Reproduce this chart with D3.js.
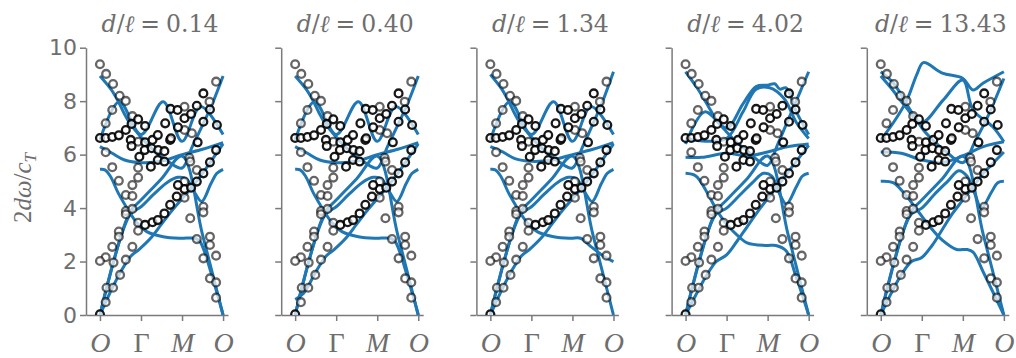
<!DOCTYPE html>
<html>
<head>
<meta charset="utf-8">
<script src="https://cdn.jsdelivr.net/npm/d3@7"></script>
<style>
  body { margin: 0; background: #fff; }
</style>
</head>
<body>
<script>
// dispersion panels, markers shared, model curves per d/l

var dOverL = ["0.14", "0.40", "1.34", "4.02", "13.43"];
var yTicks = [0, 2, 4, 6, 8, 10];
var xTickValues = [0, 1, 2, 3];
var xTickLabels = ["O", "Γ", "M", "O"];

// reference points [k, 2dω/c_T]
var grayPoints = [
  [0, 9.38], [0.15, 9.02], [0.32, 8.64], [0.48, 8.2], [0.63, 8.01], [0.3, 7.67], [0.14, 7.17], [0.79, 7.44],
  [2.83, 8.73], [2.67, 7.98], [2.06, 7.79], [2.24, 6.8], [2.06, 6.92],
  [0.14, 6.09], [0.3, 5.53], [0.46, 5.02], [0.63, 4.49], [0.79, 4.45], [0.79, 4.86], [0.93, 5.14], [0.93, 5.51],
  [0.63, 3.89], [0.63, 3.77], [0.79, 3.97], [0.46, 3.12], [0.46, 2.93], [0.93, 3.45], [0.93, 3.15],
  [0.79, 2.55], [0.63, 2.07], [0.3, 2.55], [0.33, 1.96], [0.14, 2.16], [0, 2.02], [0.49, 1.5],
  [0.16, 1.02], [0.32, 1.02], [0.14, 0.48],
  [2.18, 5.88], [2.2, 5.74], [2.36, 5.42], [2.06, 4.99], [2.06, 4.39], [2.52, 4.05], [2.52, 3.84],
  [2.2, 3.62], [2.36, 2.84], [2.68, 2.93], [2.68, 2.62], [2.83, 2.22], [2.52, 2.12],
  [2.68, 1.37], [2.83, 1.22], [2.83, 0.65], [0.93, 6.48]
];
var blackPoints = [
  [0, 6.62], [0.14, 6.62], [0.3, 6.66], [0.46, 6.72], [0.63, 6.92], [0.77, 7.15], [0.93, 7.32], [1.1, 7.07],
  [0.75, 6.55], [1.1, 6.46], [1.09, 6.17], [1.28, 6.55], [1.26, 6.24], [1.42, 6.17], [1.24, 5.55], [1.41, 6.73],
  [1.1, 3.37], [1.28, 3.47], [1.41, 3.55], [1.57, 3.8], [1.71, 4.12], [1.87, 4.43], [2.06, 4.71], [2.22, 4.76],
  [1.9, 4.86], [2.36, 4.99], [2.52, 5.3], [2.68, 5.71], [2.83, 6.17],
  [1.71, 6.55], [1.57, 6.13], [1.41, 5.8], [1.57, 5.74], [2.38, 6.46], [1.59, 7.17], [1.72, 7.71], [1.89, 7.67],
  [2.06, 7.36], [2.22, 7.52], [2.36, 7.83], [2.52, 8.29], [2.68, 7.69], [1.9, 7.02], [1.73, 6.61], [2.52, 7.23],
  [2.85, 7.11], [0, 0.03], [0.77, 6.32], [0.96, 5.92]
];

// model branches, one list per panel
var acoA = [[0, 0], [0.73, 3.85], [1, 4.3], [1.5, 5.1], [2, 5.95], [2.5, 3.0], [3, 0]];

var linesP0 = [
  [[0, 0], [0.25, 0.85], [0.5, 1.6], [0.75, 2.2], [0.95, 2.45], [1.25, 2.9], [1.5, 3.4], [1.75, 3.9], [2, 4.35], [2.25, 4.8], [2.5, 5.3], [2.75, 5.85], [3, 6.4]],
  acoA,
  [[0, 0], [0.73, 3.75], [1, 4.05], [1.3, 4.5], [1.63, 4.95], [1.9, 5.15], [2.1, 5.1], [2.3, 4.6], [2.48, 4.25], [2.7, 4.9], [2.85, 5.3], [3, 5.45]],
  [[0, 5.45], [0.12, 5.43], [0.25, 5.2], [0.45, 4.55], [0.7, 3.9], [0.9, 3.45], [1.14, 3.12], [1.54, 2.93], [1.95, 2.87], [2.32, 2.87], [2.44, 2.74], [2.76, 1.31], [3, 0]],
  [[0, 6.3], [0.3, 6.05], [0.6, 5.8], [1, 5.7], [1.5, 5.75], [2, 6.0], [2.5, 6.2], [3, 6.45]],
  [[0, 6.55], [0.47, 7.98], [1, 6.75], [1.54, 7.98], [2, 6.5], [2.45, 7.8], [3, 6.75]],
  [[0, 8.94], [0.28, 8.42], [0.45, 7.98], [0.57, 7.6], [0.73, 7.17], [0.89, 6.86], [1.14, 6.42], [1.4, 6.05], [1.7, 5.7], [2, 5.5], [2.25, 6.3], [2.5, 7.1], [2.75, 7.95], [3, 8.94]]
];
var linesP1 = [
  [[0, 0.58], [0.2, 0.8], [0.5, 1.6], [0.75, 2.2], [0.95, 2.45], [1.25, 2.9], [1.5, 3.4], [1.75, 3.9], [2, 4.35], [2.25, 4.8], [2.5, 5.3], [2.75, 5.85], [3, 6.4]],
  acoA,
  [[0, 0], [0.73, 3.75], [1, 4.05], [1.3, 4.5], [1.63, 4.95], [1.9, 5.15], [2.1, 5.1], [2.3, 4.6], [2.48, 4.25], [2.7, 4.9], [2.85, 5.3], [3, 5.45]],
  [[0, 5.45], [0.12, 5.43], [0.25, 5.2], [0.45, 4.55], [0.7, 3.9], [0.9, 3.45], [1.14, 3.12], [1.54, 2.93], [1.95, 2.87], [2.32, 2.87], [2.44, 2.74], [2.76, 1.31], [3, 0]],
  [[0, 6.3], [0.3, 6.05], [0.6, 5.8], [1, 5.7], [1.5, 5.75], [2, 6.0], [2.5, 6.2], [3, 6.45]],
  [[0, 6.55], [0.47, 7.98], [1, 6.75], [1.54, 7.98], [2, 6.5], [2.45, 7.8], [3, 6.75]],
  [[0, 8.94], [0.28, 8.42], [0.45, 7.98], [0.57, 7.6], [0.73, 7.17], [0.89, 6.86], [1.14, 6.42], [1.4, 6.05], [1.7, 5.7], [2, 5.5], [2.25, 6.3], [2.5, 7.1], [2.75, 7.95], [3, 8.94]]
];
var linesP2 = [
  [[0, 0], [0.25, 0.85], [0.5, 1.6], [0.75, 2.2], [0.95, 2.45], [1.25, 2.9], [1.5, 3.4], [1.75, 3.9], [2, 4.35], [2.25, 4.8], [2.5, 5.3], [2.75, 5.85], [3, 6.4]],
  acoA,
  [[0, 0], [0.73, 3.75], [1, 4.05], [1.3, 4.5], [1.63, 4.95], [1.9, 5.15], [2.1, 5.1], [2.3, 4.6], [2.48, 4.25], [2.7, 4.9], [2.85, 5.3], [3, 5.45]],
  [[0, 5.45], [0.12, 5.43], [0.25, 5.2], [0.45, 4.55], [0.7, 3.9], [0.9, 3.45], [1.14, 3.12], [1.54, 2.93], [1.95, 2.87], [2.2, 2.87], [2.45, 2.56], [2.78, 2.18], [3, 2.0]],
  [[0, 6.3], [0.3, 6.1], [0.6, 5.85], [1, 5.75], [1.5, 5.8], [2, 6.0], [2.5, 6.2], [3, 6.45]],
  [[0, 6.55], [0.47, 7.98], [1, 6.75], [1.54, 7.98], [2, 6.5], [2.45, 7.8], [3, 6.75]],
  [[0, 9.0], [0.28, 8.45], [0.45, 7.98], [0.57, 7.6], [0.73, 7.17], [0.89, 6.86], [1.14, 6.42], [1.4, 6.05], [1.7, 5.7], [2, 5.5], [2.25, 6.3], [2.5, 7.15], [2.75, 8.05], [3, 9.1]]
];
var linesP3 = [
  [[0, 0], [0.25, 0.75], [0.5, 1.45], [0.75, 2.0], [1, 2.25], [1.25, 2.75], [1.5, 3.3], [1.75, 3.85], [2, 4.35], [2.25, 4.85], [2.5, 5.35], [2.75, 5.85], [3, 6.35]],
  acoA,
  [[0, 0], [0.73, 3.75], [1, 4.0], [1.3, 4.45], [1.63, 4.95], [1.9, 5.3], [2.1, 5.2], [2.3, 4.5], [2.46, 4.15], [2.7, 4.8], [2.85, 5.2], [3, 5.3]],
  [[0, 5.3], [0.25, 5.2], [0.5, 4.65], [0.75, 3.95], [1, 3.4], [1.25, 3.0], [1.5, 2.7], [1.95, 2.6], [2.2, 2.6], [2.45, 2.4], [2.7, 1.4], [3, 0]],
  [[0, 5.9], [0.4, 5.9], [1, 6.05], [1.5, 5.95], [2, 6.1], [2.5, 6.3], [3, 6.4]],
  [[0, 6.4], [0.47, 7.6], [1, 7.0], [1.4, 7.9], [1.72, 8.55], [2, 8.6], [2.17, 8.65], [2.3, 8.45], [2.45, 8.5], [2.7, 7.6], [3, 6.75]],
  [[0, 6.6], [0.5, 6.5], [1, 6.6], [1.4, 7.6], [1.72, 8.45], [2.05, 8.5], [2.4, 8.1], [2.7, 7.2], [3, 6.6]],
  [[0, 9.1], [0.28, 8.5], [0.5, 7.95], [0.75, 7.3], [1, 6.85], [1.25, 6.45], [1.5, 6.15], [1.75, 5.8], [2, 5.6], [2.25, 6.4], [2.5, 7.3], [2.75, 8.2], [3, 9.1]]
];
var linesP4 = [
  [[0, 0], [0.25, 0.8], [0.5, 1.5], [0.75, 2.0], [1, 2.15], [1.25, 2.6], [1.5, 3.2], [1.75, 3.8], [2, 4.3], [2.25, 4.8], [2.5, 5.3], [2.75, 5.7], [3, 6.1]],
  acoA,
  [[0, 0], [0.73, 3.75], [1, 4.0], [1.3, 4.5], [1.63, 5.0], [1.9, 5.4], [2.1, 5.2], [2.3, 4.5], [2.45, 4.0], [2.7, 4.6], [2.85, 4.95], [3, 5.0]],
  [[0, 5.0], [0.3, 4.95], [0.6, 4.5], [0.9, 3.9], [1.2, 3.3], [1.5, 2.8], [1.85, 2.45], [2.1, 2.45], [2.25, 2.35], [2.5, 1.6], [3, 0]],
  [[0, 6.1], [0.5, 6.05], [1, 5.8], [1.5, 5.7], [2, 5.95], [2.5, 6.3], [3, 6.48]],
  [[0, 6.55], [0.31, 7.2], [0.64, 8.05], [0.88, 9.0], [1.04, 9.44], [1.5, 9.05], [2, 8.85], [2.25, 8.42], [2.49, 8.67], [3, 9.1]],
  [[0, 9.1], [0.31, 8.67], [0.72, 7.67], [1.04, 6.92], [1.3, 6.5], [1.6, 6.1], [2, 5.7], [2.3, 6.5], [2.6, 7.4], [3, 8.85]],
  [[0, 8.94], [0.3, 8.4], [0.6, 7.8], [1, 7.2], [1.52, 8.04], [2, 8.79], [2.25, 7.67], [2.73, 7.04], [3, 6.48]]
];
var panelLines = [linesP0, linesP1, linesP2, linesP3, linesP4];

var svg = d3.select("body").append("svg").attr("width", 1016).attr("height", 358);

var x = d3.scaleLinear().domain([-0.34, 3.12]).range([0, 142]);
var y = d3.scaleLinear().domain([0, 10]).range([315, 47.7]);

var line = d3.line()
  .x(function (d) { return x(d[0]); })
  .y(function (d) { return y(d[1]); })
  .curve(d3.curveCatmullRom.alpha(0.5));

var textGray = "#6e6e6e";
var axisGray = "#7a7a7a";
var serif = "Liberation Serif, DejaVu Serif, serif";

svg.append("defs").append("clipPath").attr("id", "plotclip")
  .append("rect").attr("x", 0).attr("y", y(10)).attr("width", 142).attr("height", y(0) - y(10));

for (var p = 0; p < 5; p++) {
  var g = svg.append("g").attr("transform", "translate(" + (86 + p * 195.2) + ",0)");

  // axes
  var yAxis = d3.axisLeft(y).tickValues(yTicks).tickSize(6).tickSizeOuter(0)
    .tickFormat(p === 0 ? d3.format("d") : function () { return ""; });
  var ya = g.append("g").call(yAxis);
  var xa = g.append("g").attr("transform", "translate(0," + y(0) + ")")
    .call(d3.axisBottom(x).tickValues(xTickValues).tickSize(6).tickSizeOuter(0)
      .tickFormat(function (d, i) { return xTickLabels[i]; }));

  [ya, xa].forEach(function (a) {
    a.select(".domain").attr("stroke", axisGray).attr("stroke-width", 1.5);
    a.selectAll(".tick line").attr("stroke", axisGray).attr("stroke-width", 1.5);
  });
  ya.selectAll(".tick text").attr("fill", textGray).attr("font-family", "DejaVu Sans")
    .attr("font-size", 22).attr("x", -9);
  xa.selectAll(".tick text").attr("fill", textGray).attr("font-family", serif)
    .attr("font-size", 28).attr("y", 17)
    .attr("font-style", function (d, i) { return xTickLabels[i] === "Γ" ? "normal" : "italic"; });

  // title
  var t = g.append("text").attr("x", 74).attr("y", 32).attr("text-anchor", "middle")
    .attr("fill", textGray).attr("font-family", "DejaVu Serif, serif").attr("font-size", 23.5);
  t.append("tspan").attr("font-style", "italic").text("d");
  t.append("tspan").text("/");
  t.append("tspan").attr("font-style", "italic").text("ℓ");
  t.append("tspan").attr("dx", 6).text("=");
  t.append("tspan").attr("dx", 6).text(dOverL[p]);

  // curves and points
  var plot = g.append("g").attr("clip-path", "url(#plotclip)");
  plot.selectAll("path.branch")
    .data(panelLines[p])
    .enter().append("path")
    .attr("class", "branch")
    .attr("fill", "none")
    .attr("stroke", "#1f77b4")
    .attr("stroke-width", 3)
    .attr("stroke-linejoin", "round")
    .attr("d", line);

  plot.selectAll("circle.gray")
    .data(grayPoints)
    .enter().append("circle")
    .attr("class", "gray")
    .attr("cx", function (d) { return x(d[0]); })
    .attr("cy", function (d) { return y(d[1]); })
    .attr("r", 3.9)
    .attr("fill", "#fff").attr("fill-opacity", 0.7)
    .attr("stroke", "#000").attr("stroke-opacity", 0.6).attr("stroke-width", 2.3);

  plot.selectAll("circle.black")
    .data(blackPoints)
    .enter().append("circle")
    .attr("class", "black")
    .attr("cx", function (d) { return x(d[0]); })
    .attr("cy", function (d) { return y(d[1]); })
    .attr("r", 3.9)
    .attr("fill", "#fff").attr("fill-opacity", 0.7)
    .attr("stroke", "#000").attr("stroke-opacity", 0.9).attr("stroke-width", 2.3);
}

// y label
var yl = svg.append("text").attr("transform", "translate(31,188) rotate(-90)")
  .attr("text-anchor", "middle").attr("fill", textGray)
  .attr("font-family", serif).attr("font-size", 25);
yl.append("tspan").text("2");
yl.append("tspan").attr("font-style", "italic").text("dω");
yl.append("tspan").text("/");
yl.append("tspan").attr("font-style", "italic").text("c");
yl.append("tspan").attr("font-style", "italic").attr("font-size", 17).attr("dy", 5).text("T");
</script>
</body>
</html>
